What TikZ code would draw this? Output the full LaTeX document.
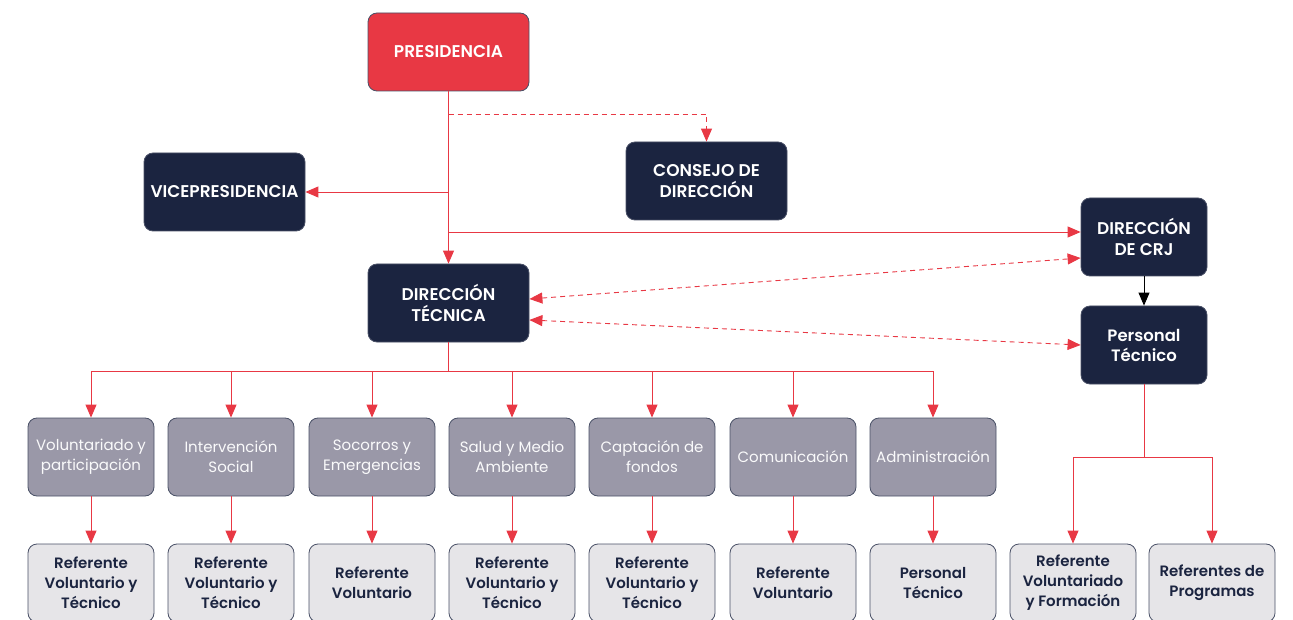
\documentclass[tikz,border=0pt]{standalone}
\usepackage{fontspec}
\setmainfont{Poppins}[BoldFont={Poppins SemiBold}]
\usetikzlibrary{arrows.meta, positioning}

\definecolor{navy}{HTML}{1B2440}
\definecolor{crred}{HTML}{E83844}
\definecolor{midgrey}{HTML}{9A98A8}
\definecolor{lightgrey}{HTML}{E6E5E8}

\begin{document}
\begin{tikzpicture}[x=1pt, y=-1pt, >={Triangle[length=13pt, width=11pt]},
                box/.style={draw=navy!80, line width=0.8pt, rounded corners=9pt, align=center,
                    minimum width=126pt, minimum height=78pt, inner sep=2pt},
                wide/.style={minimum width=161pt},
                head/.style={box, fill=navy, text=white, font=\fontsize{17}{21}\selectfont\bfseries},
                pres/.style={head, fill=crred},
                area/.style={box, fill=midgrey, text=white!95!midgrey, font=\fontsize{15}{20}\selectfont},
                leaf/.style={box, fill=lightgrey, text=navy, font=\fontsize{15}{20}\selectfont\bfseries},
                arr/.style={->, crred, line width=0.9pt},
                darr/.style={arr, dash pattern=on 5pt off 4pt}]
                \useasboundingbox (0,0) rectangle (1293,620);
                % top levels
                \node[pres, wide] (presi) at (448.5,52) {PRESIDENCIA};
                \node[head, wide] (cons) at (706.5,181) {CONSEJO DE\\DIRECCIÓN};
                \node[head, wide] (vice) at (224.5,192) {VICEPRESIDENCIA};
                \node[head, wide] (dt) at (448.5,303) {DIRECCIÓN\\TÉCNICA};
                \node[head] (crj) at (1144,237) {DIRECCIÓN\\DE CRJ};
                \node[head, font=\fontsize{16.5}{20}\selectfont\bfseries] (pt) at (1144,345) {Personal\\Técnico};
                % areas
                \node[area] (vol) at (91,457) {Voluntariado y\\participación};
                \node[area] (inter) at (231,457) {Intervención\\Social};
                \node[area] (soc) at (372,457) {Socorros y\\Emergencias};
                \node[area] (salud) at (512,457) {Salud y Medio\\Ambiente};
                \node[area] (capt) at (652,457) {Captación de\\fondos};
                \node[area] (com) at (793,457) {Comunicación};
                \node[area] (adm) at (933,457) {Administración};
                % referentes
                \node[leaf] (rvol) at (91,583) {Referente\\Voluntario y\\Técnico};
                \node[leaf] (rinter) at (231,583) {Referente\\Voluntario y\\Técnico};
                \node[leaf] (rsoc) at (372,583) {Referente\\Voluntario};
                \node[leaf] (rsalud) at (512,583) {Referente\\Voluntario y\\Técnico};
                \node[leaf] (rcapt) at (652,583) {Referente\\Voluntario y\\Técnico};
                \node[leaf] (rcom) at (793,583) {Referente\\Voluntario};
                \node[leaf] (radm) at (933,583) {Personal\\Técnico};
                \node[leaf] (rform) at (1073,583) {Referente\\Voluntariado\\y Formación};
                \node[leaf] (rprog) at (1212,583) {Referentes de\\Programas};
                % junctions
                \coordinate (jcons) at (448.5,114);
                \coordinate (jvice) at (448.5,192);
                \coordinate (jcrj) at (448.5,232);
                \coordinate (jdt) at (448.5,371);
                \coordinate (jpt) at (1144,457);
                % connectors
                \draw[arr] (presi) -- (dt);
                \draw[darr] (jcons) -| (cons);
                \draw[arr] (jvice) -- (vice);
                \draw[arr] (jcrj) -- (jcrj -| crj.west);
                \draw[darr, <->] ([yshift=4pt]dt.east) -- ([yshift=-21pt]crj.west);
                \draw[darr, <->] ([yshift=-17pt]dt.east) -- (pt.west);
                \draw[->, line width=0.9pt] (crj) -- (pt);
                \draw[crred, line width=0.9pt] (dt.south) -- (jdt) (jdt -| vol) -- (jdt -| adm);
                \draw[arr] (jdt -| vol) -- (vol);
                \draw[arr] (jdt -| inter) -- (inter);
                \draw[arr] (jdt -| soc) -- (soc);
                \draw[arr] (jdt -| salud) -- (salud);
                \draw[arr] (jdt -| capt) -- (capt);
                \draw[arr] (jdt -| com) -- (com);
                \draw[arr] (jdt -| adm) -- (adm);
                \draw[arr] (vol) -- (rvol);
                \draw[arr] (inter) -- (rinter);
                \draw[arr] (soc) -- (rsoc);
                \draw[arr] (salud) -- (rsalud);
                \draw[arr] (capt) -- (rcapt);
                \draw[arr] (com) -- (rcom);
                \draw[arr] (adm) -- (radm);
                \draw[crred, line width=0.9pt] (pt) -- (jpt) (jpt -| rform) -- (jpt -| rprog);
                \draw[arr] (jpt -| rform) -- (rform);
                \draw[arr] (jpt -| rprog) -- (rprog);
            \end{tikzpicture}
\end{document}
